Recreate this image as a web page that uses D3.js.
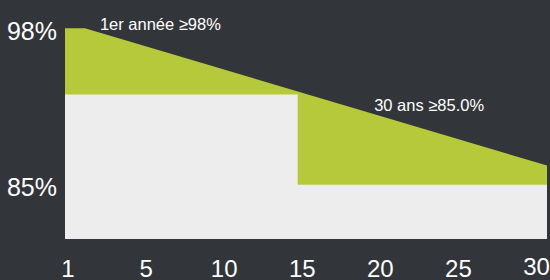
<!DOCTYPE html>
<html>
<head>
<meta charset="utf-8">
<script src="https://cdn.jsdelivr.net/npm/d3@7"></script>
<style>
  html, body { margin: 0; padding: 0; background: #323539; }
  svg { display: block; font-family: "Liberation Sans", Arial, sans-serif; }
</style>
</head>
<body>
<svg width="550" height="280"></svg>
<script>
// Guarantee line (year, %)
var guaranteeYears = [1, 2.2, 30];
var guaranteeValues = [98, 98, 86.6];

// Standard warranty steps (year, %)
var stepYears = [1, 15, 30];
var stepValues = [92.5, 85, 85];

// Axis labels
var xTickLabels = ["1", "5", "10", "15", "20", "25", "30"];
var yTickValues = [98, 85];

// Annotations (year, %, text)
var noteYears = [3.1, 19.6];
var noteValues = [97.9, 91.1];
var noteTexts = ["1er année \u226598%", "30 ans \u226585.0%"];

var svg = d3.select("svg");

// Scales
var xScale = d3.scaleLinear().domain([1, 30]).range([65, 547]);
var yScale = d3.scaleLinear().domain([80.5, 98]).range([239, 28.3]);
var xLabelScale = d3.scalePoint().domain(xTickLabels).range([67.5, 536]);

var guarantee = guaranteeYears.map((d, i) => [d, guaranteeValues[i]]);
var steps = stepYears.map((d, i) => [d, stepValues[i]]);

// Green area: from the guarantee line down to the bottom
var greenArea = d3
  .area()
  .x((d) => xScale(d[0]))
  .y0(yScale(80.5))
  .y1((d) => yScale(d[1]));

svg.append("path")
  .datum(guarantee)
  .attr("d", greenArea)
  .attr("fill", "#b6c93b");

// Grey area: stepped warranty
var greyArea = d3
  .area()
  .curve(d3.curveStepAfter)
  .x((d) => xScale(d[0]))
  .y0(yScale(80.5))
  .y1((d) => yScale(d[1]));

svg.append("path")
  .datum(steps)
  .attr("d", greyArea)
  .attr("fill", "#ededed");

// Y axis
var yAxis = svg.append("g")
  .attr("transform", "translate(65,3)")
  .call(d3.axisLeft(yScale).tickValues(yTickValues).tickSize(0).tickPadding(8).tickFormat((d) => d + "%"));
yAxis.select(".domain").remove();
yAxis.selectAll("text")
  .attr("fill", "#ffffff")
  .style("font-size", "25px")
  .style("font-family", "'Liberation Sans', Arial, sans-serif");

// X axis
var xAxis = svg.append("g")
  .attr("transform", "translate(0,260)")
  .call(d3.axisBottom(xLabelScale).tickSize(0).tickPadding(0));
xAxis.select(".domain").remove();
xAxis.selectAll("text")
  .attr("fill", "#ffffff")
  .attr("y", (d, i) => (i === xTickLabels.length - 1 ? -2.5 : 0))
  .style("font-size", "24px")
  .style("font-family", "'Liberation Sans', Arial, sans-serif");

// Annotations
svg.selectAll(".note")
  .data(noteTexts)
  .enter()
  .append("text")
  .attr("class", "note")
  .attr("x", (d, i) => xScale(noteYears[i]))
  .attr("y", (d, i) => yScale(noteValues[i]))
  .attr("fill", "#ffffff")
  .style("font-size", "16.5px")
  .text((d) => d);
</script>
</body>
</html>
